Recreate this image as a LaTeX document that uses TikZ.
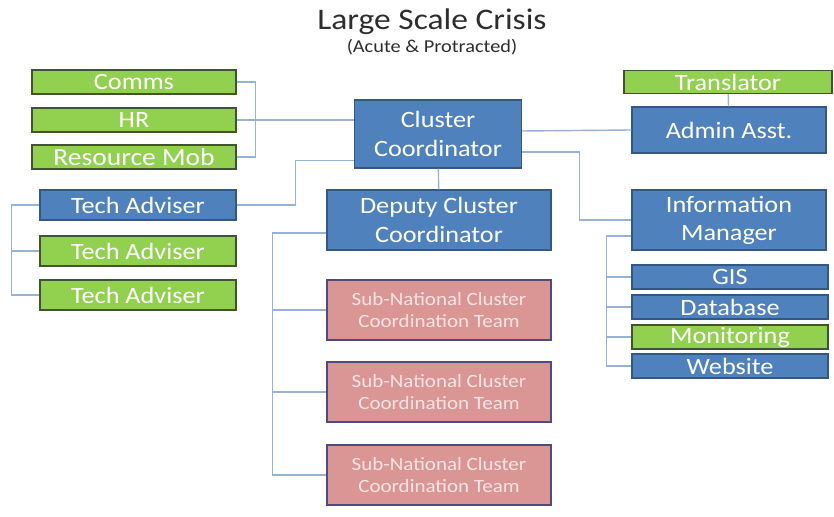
\documentclass[tikz,border=0pt]{standalone}
\usepackage{fontspec}
\setmainfont{Carlito}[FakeStretch=1.12]
\usetikzlibrary{positioning}

\definecolor{boxblue}{RGB}{79,129,189}
\definecolor{boxblueline}{RGB}{52,88,132}
\definecolor{boxgreen}{RGB}{146,208,80}
\definecolor{boxgreenline}{RGB}{64,84,52}
\definecolor{boxpink}{RGB}{217,150,148}
\definecolor{boxpinkline}{RGB}{78,76,122}
\definecolor{pinktext}{RGB}{252,228,228}
\definecolor{linkblue}{RGB}{150,178,212}
\definecolor{titlegray}{RGB}{45,45,45}

\tikzset{
  role/.style={draw, line width=1.2pt, text=white, inner sep=0pt,
    font=\fontsize{20}{24}\selectfont, align=center},
  blue role/.style={role, fill=boxblue, draw=boxblueline},
  green role/.style={role, fill=boxgreen, draw=boxgreenline},
  team/.style={role, fill=boxpink, draw=boxpinkline, text=pinktext,
    font=\fontsize{16}{18.5}\selectfont,
    minimum width=6.72cm, minimum height=1.8cm},
  link/.style={draw=linkblue, line width=1.2pt}
}

\begin{document}
\begin{tikzpicture}[x=0.03cm, y=-0.03cm]
            \useasboundingbox (0,0) rectangle (834,517);

            % heading
            \node[text=titlegray, font=\fontsize{25.5}{28}\selectfont] (title) at (432,22) {Large Scale Crisis};
            \node[text=titlegray, font=\fontsize{15.5}{18}\selectfont] (subtitle) at (432,47) {(Acute \& Protracted)};

            % support staff on the left
            \tikzstyle{support}=[green role, minimum width=6.12cm, minimum height=0.72cm]
            \node[support] (comms)  at (134,82)  {Comms};
            \node[support] (hr)     at (134,120) {HR};
            \node[support, font=\fontsize{21}{24}\selectfont] (resmob) at (134,157) {Resource Mob};

            \tikzstyle{adviser}=[minimum width=5.88cm, minimum height=0.9cm]
            \node[blue role, adviser]  (tech_1) at (138,205) {Tech Adviser};
            \node[green role, adviser] (tech_2) at (138,251) {Tech Adviser};
            \node[green role, adviser] (tech_3) at (138,295) {Tech Adviser};

            % middle column
            \node[blue role, minimum width=5.01cm, minimum height=2.04cm] (coord) at (438,134) {Cluster\\Coordinator};
            \node[blue role, minimum width=6.72cm, minimum height=1.8cm] (deputy) at (439,220) {Deputy Cluster\\Coordinator};
            \node[team] (sub_1) at (439,310) {Sub-National Cluster\\Coordination Team};
            \node[team] (sub_2) at (439,392) {Sub-National Cluster\\Coordination Team};
            \node[team] (sub_3) at (439,475) {Sub-National Cluster\\Coordination Team};

            % right column
            \node[green role, minimum width=6.24cm, minimum height=0.69cm] (translator) at (728,82) {Translator};
            \node[blue role, minimum width=5.82cm, minimum height=1.38cm] (admin) at (729,130) {Admin Asst.};
            \node[blue role, minimum width=5.82cm, minimum height=1.8cm] (infoman) at (729,220) {Information\\Manager};

            \tikzstyle{im task}=[minimum width=5.88cm, minimum height=0.72cm]
            \node[blue role, im task]  (gis)        at (730,277) {GIS};
            \node[blue role, im task]  (database)   at (730,307) {Database};
            \node[green role, im task] (monitoring) at (730,337) {Monitoring};
            \node[blue role, im task]  (website)    at (730,366) {Website};

            % connectors
            \draw[link] (comms.east) -- ++(19,0) |- (resmob.east);
            \draw[link] (hr.east) -- (hr.east -| coord.west);
            \draw[link] (tech_1.east) -- ++(59,0) |- ([yshift=0.24cm]coord.south west);
            \draw[link] (tech_1.west) -- ++(-28,0) coordinate (tv) |- (tech_3.west);
            \draw[link] (tech_2.west) -- (tech_2.west -| tv);

            \draw[link] (coord) -- (deputy);
            \draw[link] ([yshift=-0.39cm]deputy.west) -- ++(-54,0) coordinate (sv) |- (sub_3.west);
            \draw[link] (sub_1.west) -- (sub_1.west -| sv);
            \draw[link] (sub_2.west) -- (sub_2.west -| sv);

            \draw[link] ([yshift=0.09cm]coord.east) -- (admin.west);
            \draw[link] (translator) -- (admin);
            \draw[link] ([yshift=-0.54cm]coord.east) -- ++(57,0) |- (infoman.west);
            \draw[link] ([yshift=-0.48cm]infoman.west) -- ++(-25,0) coordinate (iv) |- (website.west);
            \draw[link] (gis.west) -- (gis.west -| iv);
            \draw[link] (database.west) -- (database.west -| iv);
            \draw[link] (monitoring.west) -- (monitoring.west -| iv);
        \end{tikzpicture}
\end{document}
